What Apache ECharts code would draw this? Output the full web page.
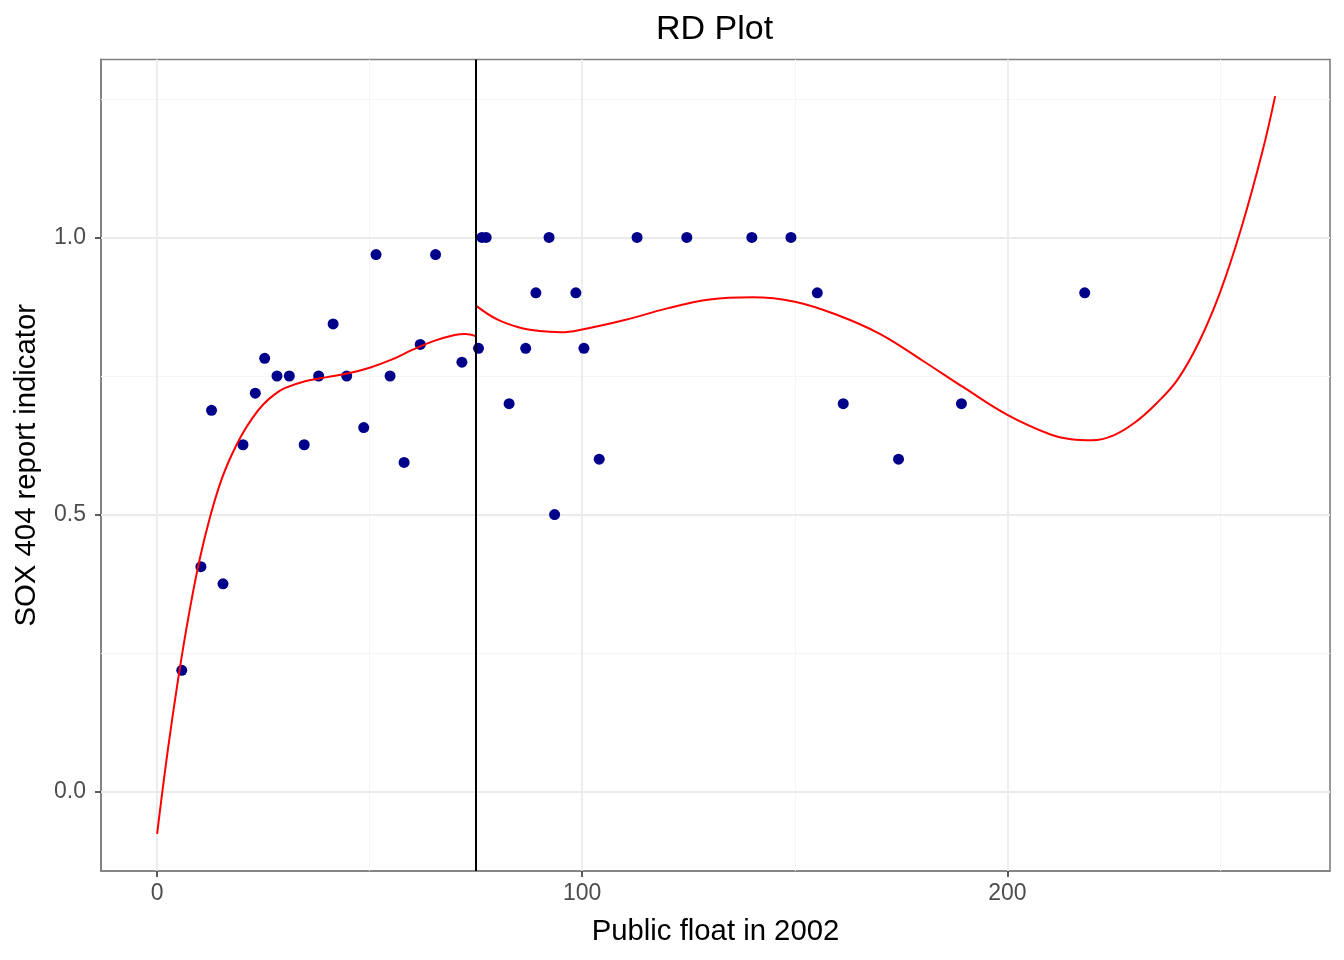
<!DOCTYPE html>
<html>
<head>
<meta charset="utf-8">
<title>RD Plot</title>
<script src="https://cdn.jsdelivr.net/npm/echarts@6/dist/echarts.min.js"></script>
<style>
  html, body { margin: 0; padding: 0; background: #fff; }
  #chart { width: 1344px; height: 960px; }
</style>
</head>
<body>
<div id="chart"></div>
<script>
// binned points: public float in 2002 and share with a SOX 404 report
var floatX = [5.8, 10.3, 12.8, 15.5, 20.2, 23.1, 25.3, 28.2, 31.1, 34.6,
  38.0, 41.4, 44.6, 48.6, 51.5, 54.8, 58.1, 61.9, 65.5, 71.7,
  75.6, 76.4, 77.4, 82.8, 86.7, 89.1, 92.2, 93.5, 98.5, 100.4,
  104.0, 112.9, 124.6, 139.9, 149.1, 155.3, 161.4, 174.4, 189.2, 218.2];
var reportY = [0.219, 0.406, 0.688, 0.375, 0.626, 0.719, 0.782, 0.750, 0.750, 0.626,
  0.750, 0.844, 0.750, 0.657, 0.969, 0.750, 0.594, 0.807, 0.969, 0.775,
  0.800, 1.0, 1.0, 0.7, 0.8, 0.9, 1.0, 0.5, 0.9, 0.8,
  0.6, 1.0, 1.0, 1.0, 1.0, 0.9, 0.7, 0.6, 0.7, 0.9];

// fitted curve left of the cutoff
var leftFitX = [0, 2.5, 5, 7.5, 10, 12.5, 15, 17.5, 20, 22.5, 25, 27.5, 30,
  35, 40, 45, 50, 55, 60, 65, 70, 72.5, 75];
var leftFitY = [-0.076, 0.074, 0.206, 0.321, 0.419, 0.497, 0.560, 0.607, 0.645, 0.675,
  0.699, 0.716, 0.728, 0.741, 0.748, 0.755, 0.765, 0.779, 0.797, 0.813, 0.824, 0.826, 0.822];

// fitted curve right of the cutoff
var rightFitX = [75, 80, 85, 90, 95, 100, 110, 120, 130, 140, 150, 160, 170, 180,
  190, 200, 210, 215, 220, 225, 230, 235, 240, 245, 250, 255, 260, 263];
var rightFitY = [0.877, 0.852, 0.838, 0.831, 0.829, 0.834, 0.851, 0.872, 0.888, 0.892,
  0.884, 0.860, 0.826, 0.778, 0.728, 0.680, 0.645, 0.636, 0.634, 0.643,
  0.666, 0.700, 0.743, 0.810, 0.900, 1.016, 1.155, 1.255];

var cutoff = 75;

// axis breaks
var xTicks = [0, 100, 200];
var xMinor = [50, 150, 250];
var yTicks = [0, 0.5, 1];
var yMinor = [0.25, 0.75, 1.25];

var font = "'Liberation Sans', Helvetica, Arial, sans-serif";

function pairs(xs, ys) {
  return xs.map(function(x, i) {
    return [x, ys[i]];
  });
}

// grid lines drawn as mark lines at the break values
function gridLines(axis, values, color, width) {
  return values.map(function(v) {
    var item = { lineStyle: { color: color, width: width, type: 'solid' } };
    item[axis] = v;
    return item;
  });
}

var chart = echarts.init(document.getElementById('chart'));

var axisLineStyle = { show: true, onZero: false, lineStyle: { color: '#7f7f7f', width: 1.6 } };

var option = {
  animation: false,
  backgroundColor: '#ffffff',
  textStyle: { fontFamily: font },
  title: {
    text: 'RD Plot',
    left: 651,
    top: 8,
    textStyle: { fontFamily: font, fontSize: 34, fontWeight: 'normal', color: '#000' }
  },
  grid: {
    left: 101,
    right: 14,
    top: 59.5,
    bottom: 89,
    show: true,
    borderColor: '#7f7f7f',
    borderWidth: 1.6,
    backgroundColor: '#fff'
  },
  xAxis: {
    type: 'value',
    min: -13.2,
    max: 275.9,
    name: 'Public float in 2002',
    nameLocation: 'middle',
    nameGap: 46,
    nameTextStyle: { fontFamily: font, fontSize: 29.3, color: '#000' },
    axisLine: axisLineStyle,
    axisTick: {
      show: true,
      inside: false,
      length: 6,
      customValues: xTicks,
      lineStyle: { color: '#333', width: 1.6 }
    },
    axisLabel: {
      customValues: xTicks,
      margin: 11,
      fontSize: 23,
      color: '#4d4d4d',
      fontFamily: font
    },
    splitLine: { show: false }
  },
  yAxis: {
    type: 'value',
    min: -0.143,
    max: 1.321,
    name: 'SOX 404 report indicator',
    nameLocation: 'middle',
    nameGap: 60,
    nameTextStyle: { fontFamily: font, fontSize: 29.3, color: '#000' },
    axisLine: axisLineStyle,
    axisTick: {
      show: true,
      inside: false,
      length: 6,
      customValues: yTicks,
      lineStyle: { color: '#333', width: 1.6 }
    },
    axisLabel: {
      customValues: yTicks,
      margin: 15,
      fontSize: 23,
      color: '#4d4d4d',
      fontFamily: font,
      formatter: function(v) {
        return v.toFixed(1);
      }
    },
    splitLine: { show: false }
  },
  series: [
    {
      name: 'grid',
      type: 'line',
      data: [],
      z: 1,
      silent: true,
      markLine: {
        z: 1,
        silent: true,
        symbol: ['none', 'none'],
        label: { show: false },
        emphasis: { disabled: true },
        animation: false,
        data: []
          .concat(gridLines('xAxis', xMinor, '#f5f5f5', 1))
          .concat(gridLines('yAxis', yMinor, '#f5f5f5', 1))
          .concat(gridLines('xAxis', xTicks, '#ebebeb', 1.8))
          .concat(gridLines('yAxis', yTicks, '#ebebeb', 1.8))
      }
    },
    {
      name: 'bins',
      type: 'scatter',
      z: 3,
      symbol: 'circle',
      symbolSize: 11,
      itemStyle: { color: '#00008b', opacity: 1 },
      data: pairs(floatX, reportY)
    },
    {
      name: 'fit left',
      type: 'line',
      z: 4,
      smooth: 0.4,
      showSymbol: false,
      lineStyle: { color: '#ff0000', width: 2 },
      data: pairs(leftFitX, leftFitY)
    },
    {
      name: 'fit right',
      type: 'line',
      z: 4,
      smooth: 0.4,
      showSymbol: false,
      lineStyle: { color: '#ff0000', width: 2 },
      data: pairs(rightFitX, rightFitY)
    },
    {
      name: 'cutoff',
      type: 'line',
      data: [],
      z: 5,
      silent: true,
      markLine: {
        z: 6,
        silent: true,
        symbol: ['none', 'none'],
        label: { show: false },
        emphasis: { disabled: true },
        animation: false,
        lineStyle: { color: '#000', width: 2, type: 'solid' },
        data: [{ xAxis: cutoff }]
      }
    }
  ]
};

chart.setOption(option);
</script>
</body>
</html>
